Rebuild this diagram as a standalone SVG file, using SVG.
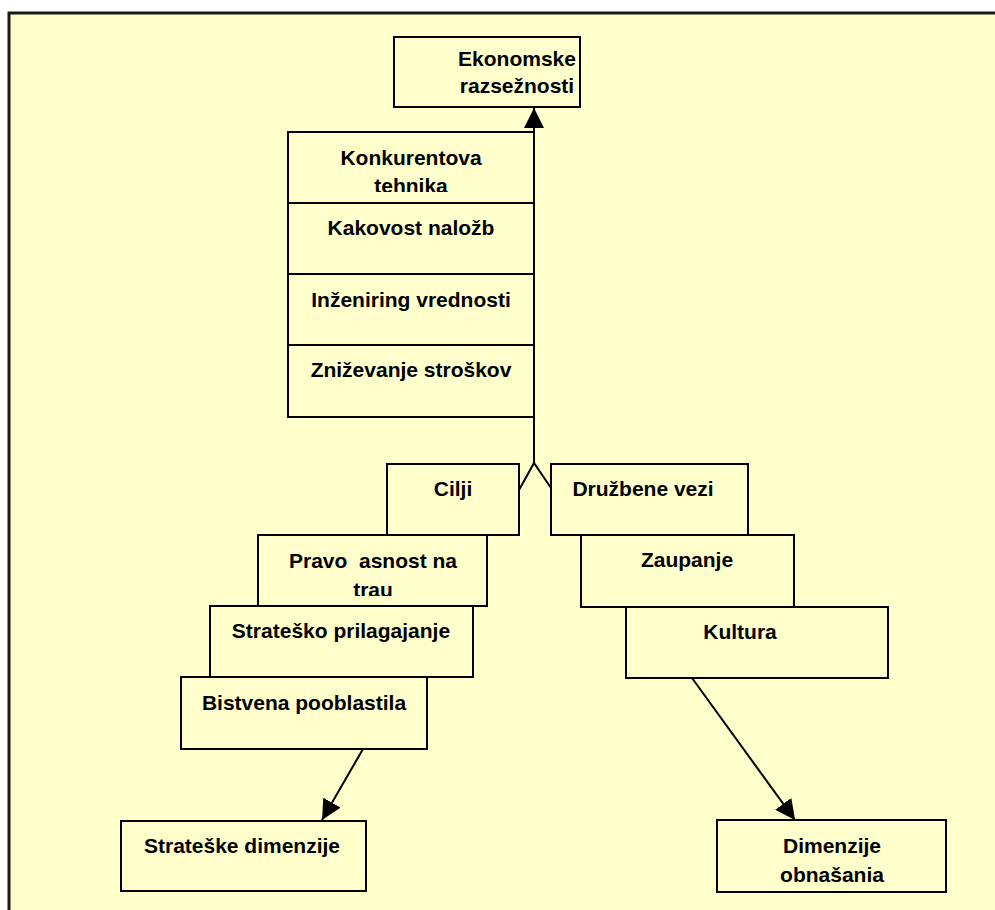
<svg xmlns="http://www.w3.org/2000/svg" width="995" height="910" viewBox="0 0 995 910">
<defs>
<style>
.bx{fill:#FFFFCC;stroke:#000;stroke-width:2}
.t{font-family:"Liberation Sans",Arial,sans-serif;font-weight:bold;font-size:21px;fill:#000;text-anchor:middle}
.ln{fill:none;stroke:#000;stroke-width:2}
</style>
<marker id="ah" viewBox="0 0 10 10" refX="10" refY="5" markerWidth="10" markerHeight="10" markerUnits="userSpaceOnUse" orient="auto">
<path d="M0,0 L10,5 L0,10 Z" fill="#000"/>
</marker>
<marker id="ah2" viewBox="0 0 20 20" refX="20" refY="10" markerWidth="20" markerHeight="20" markerUnits="userSpaceOnUse" orient="auto">
<path d="M0,0 L20,10 L0,20 Z" fill="#000"/>
</marker>
<clipPath id="c1"><rect x="288" y="132" width="246" height="60"/></clipPath>
<clipPath id="c2"><rect x="258" y="535" width="229" height="61"/></clipPath>
<clipPath id="c3"><rect x="717" y="820" width="229" height="62"/></clipPath>
</defs>
<rect x="0" y="0" width="995" height="910" fill="#fff"/>
<rect x="9" y="13" width="1000" height="910" fill="#FFFFCC" stroke="#1a1a1a" stroke-width="3"/>

<g id="connectors">
<line class="ln" x1="534" y1="463" x2="534" y2="108" marker-end="url(#ah2)"/>
<polyline class="ln" points="519,490 534,463 551,488"/>
<line class="ln" x1="363" y1="749" x2="322" y2="820" marker-end="url(#ah2)"/>
<line class="ln" x1="692" y1="678" x2="795" y2="820" marker-end="url(#ah2)"/>
</g>

<g id="ekonomske">
<rect class="bx" x="394" y="37" width="186" height="70"/>
<text class="t" x="517" y="66">Ekonomske</text>
<text class="t" x="517" y="93">razsežnosti</text>
</g>

<g id="konkurentova">
<rect class="bx" x="288" y="132" width="246" height="71"/>
<text class="t" x="411" y="165">Konkurentova</text>
<text class="t" x="411" y="193" clip-path="url(#c1)">tehnika</text>
</g>
<g id="kakovost">
<rect class="bx" x="288" y="203" width="246" height="71"/>
<text class="t" x="411" y="235">Kakovost naložb</text>
</g>
<g id="inzeniring">
<rect class="bx" x="288" y="274" width="246" height="71"/>
<text class="t" x="411" y="307">Inženiring vrednosti</text>
</g>
<g id="znizevanje">
<rect class="bx" x="288" y="345" width="246" height="72"/>
<text class="t" x="411" y="377">Zniževanje stroškov</text>
</g>

<g id="cilji">
<rect class="bx" x="387" y="464" width="132" height="71"/>
<text class="t" x="453" y="496">Cilji</text>
</g>
<g id="druzbene">
<rect class="bx" x="551" y="464" width="197" height="71"/>
<text class="t" x="643" y="496">Družbene vezi</text>
</g>

<g id="pravo">
<rect class="bx" x="258" y="535" width="229" height="71"/>
<text class="t" x="373" y="568" xml:space="preserve">Pravo  asnost na</text>
<text class="t" x="373" y="597" clip-path="url(#c2)">trau</text>
</g>
<g id="strateskoprilagajanje">
<rect class="bx" x="210" y="606" width="263" height="71"/>
<text class="t" x="341" y="638">Strateško prilagajanje</text>
</g>
<g id="bistvena">
<rect class="bx" x="181" y="677" width="246" height="72"/>
<text class="t" x="304" y="710">Bistvena pooblastila</text>
</g>

<g id="zaupanje">
<rect class="bx" x="581" y="535" width="213" height="72"/>
<text class="t" x="687" y="567">Zaupanje</text>
</g>
<g id="kultura">
<rect class="bx" x="626" y="607" width="262" height="71"/>
<text class="t" x="740" y="639">Kultura</text>
</g>

<g id="strateskedimenzije">
<rect class="bx" x="121" y="821" width="245" height="70"/>
<text class="t" x="242" y="853">Strateške dimenzije</text>
</g>
<g id="dimenzijeobnasanja">
<rect class="bx" x="717" y="820" width="229" height="72"/>
<text class="t" x="832" y="853">Dimenzije</text>
<text class="t" x="832" y="882" clip-path="url(#c3)">obnašania</text>
</g>
</svg>
